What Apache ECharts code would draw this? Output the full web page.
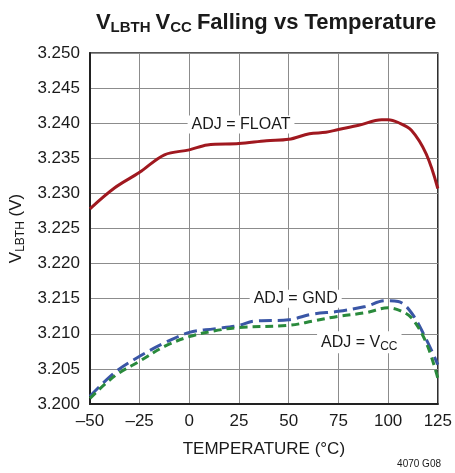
<!DOCTYPE html>
<html><head><meta charset="utf-8">
<script src="https://cdn.jsdelivr.net/npm/echarts@6/dist/echarts.min.js"></script>
<style>html,body{margin:0;padding:0;background:#fff}#c{width:455px;height:473px}</style>
</head><body><div id="c"></div>
<script>
const xTicks = [-50, -25, 0, 25, 50, 75, 100, 125];
const yTicks = [3.200, 3.205, 3.210, 3.215, 3.220, 3.225, 3.230, 3.235, 3.240, 3.245, 3.250];

const floatT = [-50, -37.5, -25, -12.5, 0, 9, 25, 38.8, 50, 60.4, 68.7, 75, 85.2, 96.8, 100, 105.1, 111.7, 119.2, 125];
const floatV = [3.2278, 3.2308, 3.2330, 3.2355, 3.2362, 3.2369, 3.2371, 3.2375, 3.2377, 3.2385, 3.2387, 3.2391, 3.2397, 3.2405, 3.2405, 3.2401, 3.2390, 3.2356, 3.2307];

const gndT = [-50, -37.5, -25, -12.5, 0, 12.3, 25, 32.2, 50, 62, 75, 88.6, 98.5, 105.1, 111.7, 119.2, 125];
const gndV = [3.2011, 3.2045, 3.2068, 3.2087, 3.2102, 3.2107, 3.2112, 3.2118, 3.2120, 3.2128, 3.2132, 3.2139, 3.2147, 3.2146, 3.2130, 3.2092, 3.2056];

const vccT = [-50, -37.5, -25, -12.5, 0, 12.3, 25, 50, 62, 75, 88.6, 100, 105.1, 111.7, 119.2, 125];
const vccV = [3.2008, 3.2040, 3.2061, 3.2082, 3.2096, 3.2104, 3.2109, 3.2112, 3.2118, 3.2125, 3.2130, 3.2137, 3.2134, 3.2123, 3.2087, 3.2037];

const FONT = '"Liberation Sans", Arial, sans-serif';
const pair = (a, b) => a.map((x, i) => [x, b[i]]);

const chart = echarts.init(document.getElementById('c'), null, {renderer: 'canvas'});

function tag(coord, rich, text) {
  return {
    data: [{coord: coord, symbol: 'circle', symbolSize: 0,
      label: {show: true, position: 'inside', formatter: text, rich: rich,
        fontFamily: FONT, fontSize: 16, color: '#1a1a1a',
        backgroundColor: '#fff', padding: [1, 4, 1, 4]}}],
    silent: true, animation: false
  };
}

chart.setOption({
  animation: false,
  backgroundColor: '#fff',
  title: {
    text: '{v|V}{s|LBTH} {v|V}{s|CC} {v|Falling vs Temperature}',
    left: 261, top: 5, textAlign: 'center',
    textStyle: {
      rich: {
        v: {fontFamily: FONT, fontSize: 22, fontWeight: 'bold', color: '#1a1a1a'},
        s: {fontFamily: FONT, fontSize: 15, fontWeight: 'bold', color: '#1a1a1a', verticalAlign: 'bottom', padding: [10, 0, 0, 0]}
      }
    }
  },
  grid: {left: 88, right: 15, top: 53, bottom: 69, show: true, borderColor: '#222', borderWidth: 1.5},
  xAxis: {
    type: 'value', min: -50, max: 125, interval: 25,
    axisLine: {show: true, onZero: false, lineStyle: {color: '#222', width: 2}},
    axisTick: {show: false},
    splitLine: {show: true, lineStyle: {color: '#8c8c8c', width: 1}},
    axisLabel: {fontFamily: FONT, fontSize: 17, color: '#1a1a1a', margin: 9,
      formatter: v => v < 0 ? '\u2013' + Math.abs(v) : String(v)},
    name: 'TEMPERATURE (°C)', nameLocation: 'middle', nameGap: 37,
    nameTextStyle: {fontFamily: FONT, fontSize: 17, color: '#1a1a1a'}
  },
  yAxis: {
    type: 'value', min: 3.200, max: 3.250, interval: 0.005,
    axisLine: {show: true, onZero: false, lineStyle: {color: '#222', width: 2}},
    axisTick: {show: false},
    splitLine: {show: true, lineStyle: {color: '#8c8c8c', width: 1}},
    axisLabel: {fontFamily: FONT, fontSize: 17, color: '#1a1a1a', margin: 10,
      formatter: v => v.toFixed(3)},
    name: '{v|V}{s|LBTH}{v| (V)}', nameLocation: 'middle', nameGap: 56, nameRotate: 90,
    nameTextStyle: {
      rich: {
        v: {fontFamily: FONT, fontSize: 17, color: '#1a1a1a'},
        s: {fontFamily: FONT, fontSize: 12, color: '#1a1a1a', verticalAlign: 'bottom', padding: [8, 0, 0, 0]}
      }
    }
  },
  graphic: [{
    type: 'text', right: 14, bottom: 4,
    style: {text: '4070 G08', fontFamily: FONT, fontSize: 10, fill: '#1a1a1a'}
  }],
  series: [
    {
      name: 'ADJ = FLOAT', type: 'line', data: pair(floatT, floatV), smooth: 0.35,
      showSymbol: false, lineStyle: {color: '#a0181f', width: 3}, z: 3,
      markPoint: tag([26, 3.2398], {}, 'ADJ = FLOAT')
    },
    {
      name: 'ADJ = GND', type: 'line', data: pair(gndT, gndV), smooth: 0.35,
      showSymbol: false, lineStyle: {color: '#3a56a6', width: 3, type: [13, 6]}, z: 4,
      markPoint: tag([53.5, 3.2150], {}, 'ADJ = GND')
    },
    {
      name: 'ADJ = VCC', type: 'line', data: pair(vccT, vccV), smooth: 0.35,
      showSymbol: false, lineStyle: {color: '#2a8a3c', width: 3, type: [8, 5]}, z: 5,
      markPoint: tag([85.5, 3.2088],
        {v: {fontFamily: FONT, fontSize: 16, color: '#1a1a1a'},
         s: {fontFamily: FONT, fontSize: 12, color: '#1a1a1a', verticalAlign: 'bottom', padding: [8, 0, 0, 0]}},
        '{v|ADJ = V}{s|CC}')
    }
  ]
});
</script>
</body></html>
